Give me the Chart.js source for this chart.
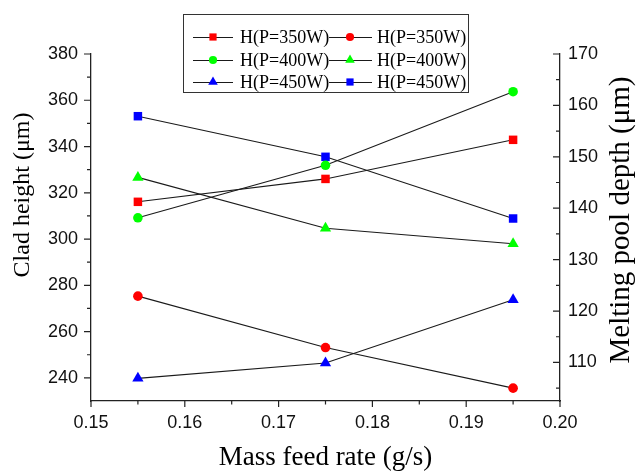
<!DOCTYPE html>
<html><head><meta charset="utf-8">
<script src="https://cdn.jsdelivr.net/npm/chart.js@4/dist/chart.umd.min.js"></script>
<style>html,body{margin:0;padding:0;background:#fff}#wrap{width:636px;height:472px;position:relative}</style>
</head><body><div id="wrap"><canvas id="c" width="636" height="472"></canvas></div>
<script>
// ---- data ----
const massFeedRate = [0.155, 0.175, 0.195];
const xTicks = [0.15, 0.16, 0.17, 0.18, 0.19, 0.20];
const xMinorTicks = [0.155, 0.165, 0.175, 0.185, 0.195];
const cladTicks = [240, 260, 280, 300, 320, 340, 360, 380];
const cladMinorTicks = [230, 250, 270, 290, 310, 330, 350, 370];
const depthTicks = [110, 120, 130, 140, 150, 160, 170];
const depthMinorTicks = [105, 115, 125, 135, 145, 155, 165];
const cladH350 = [316.1, 326.0, 342.9];
const depth350 = [122.9, 112.9, 105.0];
const cladH400 = [309.2, 331.9, 363.7];
const depth400 = [146.0, 136.1, 133.1];
const cladH450 = [239.8, 246.4, 273.8];
const depth450 = [157.9, 150.0, 138.0];
const seriesLabels = ['H(P=350W)', 'H(P=350W)', 'H(P=400W)', 'H(P=400W)', 'H(P=450W)', 'H(P=450W)'];
const xTitle = 'Mass feed rate (g/s)';
const leftTitle = 'Clad height (\u03bcm)';
const rightTitle = 'Melting pool depth (\u03bcm)';

const pts = arr => massFeedRate.map((x, i) => ({x: x, y: arr[i]}));
function ds(label, arr, axis, color, style, r) {
  return {label: label, data: pts(arr), yAxisID: axis, borderColor: '#1a1a1a', borderWidth: 1.1,
    pointStyle: style, pointRadius: r, pointHoverRadius: r, pointBackgroundColor: color,
    pointBorderColor: color, pointBorderWidth: 0, tension: 0, fill: false};
}
const datasets = [
  ds(seriesLabels[0], cladH350, 'yL', '#ff0000', 'rect', 6),
  ds(seriesLabels[1], depth350, 'yR', '#ff0000', 'circle', 4.8),
  ds(seriesLabels[2], cladH400, 'yL', '#00ff00', 'circle', 4.8),
  ds(seriesLabels[3], depth400, 'yR', '#00ff00', 'triangle', 6.5),
  ds(seriesLabels[4], cladH450, 'yL', '#0000ff', 'triangle', 6.5),
  ds(seriesLabels[5], depth450, 'yR', '#0000ff', 'rect', 6)
];

function marker(ctx, style, r, x, y, color) {
  ctx.save();
  ctx.fillStyle = color;
  ctx.beginPath();
  if (style === 'rect') { const s = Math.SQRT1_2 * r; ctx.rect(x - s, y - s, 2 * s, 2 * s); }
  else if (style === 'circle') { ctx.arc(x, y, r, 0, Math.PI * 2); }
  else { let a = 0; ctx.moveTo(x + Math.sin(a) * r, y - Math.cos(a) * r); a += 2 * Math.PI / 3;
    ctx.lineTo(x + Math.sin(a) * r, y - Math.cos(a) * r); a += 2 * Math.PI / 3;
    ctx.lineTo(x + Math.sin(a) * r, y - Math.cos(a) * r); ctx.closePath(); }
  ctx.fill();
  ctx.restore();
}

const extras = {
  id: 'extras',
  afterDraw(chart) {
    const ctx = chart.ctx, a = chart.chartArea;
    const sx = chart.scales.x, sl = chart.scales.yL, sr = chart.scales.yR;
    ctx.save();
    ctx.strokeStyle = '#222'; ctx.lineWidth = 1.2;
    ctx.beginPath();
    // left axis: outward ticks
    cladTicks.forEach(v => { const y = sl.getPixelForValue(v); ctx.moveTo(a.left, y); ctx.lineTo(a.left - 7, y); });
    cladMinorTicks.forEach(v => { const y = sl.getPixelForValue(v); if (y <= a.bottom - 1) { ctx.moveTo(a.left, y); ctx.lineTo(a.left - 4, y); } });
    // right axis: inward ticks
    depthTicks.forEach(v => { const y = sr.getPixelForValue(v); ctx.moveTo(a.right, y); ctx.lineTo(a.right - 7, y); });
    depthMinorTicks.forEach(v => { const y = sr.getPixelForValue(v); ctx.moveTo(a.right, y); ctx.lineTo(a.right - 4, y); });
    // bottom axis: outward ticks
    xTicks.forEach(v => { const x = sx.getPixelForValue(v); ctx.moveTo(x, a.bottom); ctx.lineTo(x, a.bottom + 6); });
    xMinorTicks.forEach(v => { const x = sx.getPixelForValue(v); ctx.moveTo(x, a.bottom); ctx.lineTo(x, a.bottom + 3.5); });
    ctx.stroke();

    // axis titles
    ctx.fillStyle = '#000';
    ctx.textAlign = 'center'; ctx.textBaseline = 'middle';
    ctx.font = '27px "Liberation Serif", "Times New Roman", serif';
    ctx.fillText(xTitle, (a.left + a.right) / 2, 458);
    ctx.save(); ctx.translate(23, 195); ctx.rotate(-Math.PI / 2);
    ctx.font = '24px "Liberation Serif", "Times New Roman", serif';
    ctx.fillText(leftTitle, 0, 0); ctx.restore();
    ctx.save(); ctx.translate(621, 220); ctx.rotate(-Math.PI / 2);
    ctx.font = '29px "Liberation Serif", "Times New Roman", serif';
    ctx.fillText(rightTitle, 0, 0); ctx.restore();

    // legend
    ctx.fillStyle = '#fff';
    ctx.fillRect(183.5, 14.5, 285, 78);
    ctx.strokeStyle = '#333'; ctx.lineWidth = 1;
    ctx.strokeRect(183.5, 14.5, 285, 78);
    const rowY = [37, 60, 82];
    ctx.font = '18px "Liberation Serif", "Times New Roman", serif';
    ctx.textAlign = 'left';
    chart.data.datasets.forEach((d, i) => {
      const row = Math.floor(i / 2), col = i % 2;
      const y = rowY[row];
      const x0 = col ? 329 : 193, x1 = col ? 372 : 233, mx = col ? 350 : 213, tx = col ? 377 : 240;
      ctx.strokeStyle = '#1a1a1a'; ctx.lineWidth = 1;
      ctx.beginPath(); ctx.moveTo(x0, y + 0.5); ctx.lineTo(x1, y + 0.5); ctx.stroke();
      marker(ctx, d.pointStyle, d.pointRadius * 0.85, mx, y, d.pointBackgroundColor);
      ctx.fillStyle = '#000';
      ctx.fillText(d.label, tx, y + 1);
    });
    ctx.restore();
  }
};

const tickFont = {family: '"Liberation Sans", Arial, sans-serif', size: 18};
new Chart(document.getElementById('c'), {
  type: 'line',
  data: {datasets: datasets},
  options: {
    responsive: false, animation: false, devicePixelRatio: 1,
    layout: {padding: {top: 54, left: 0, right: 0, bottom: 0}},
    plugins: {legend: {display: false}, tooltip: {enabled: false}},
    scales: {
      x: {type: 'linear', min: 0.15, max: 0.20,
        afterBuildTicks: s => { s.ticks = xTicks.map(v => ({value: v})); },
        afterFit: s => { s.height = 71; },
        grid: {display: false, drawTicks: false},
        border: {display: true, color: '#222', width: 1.3},
        ticks: {font: tickFont, color: '#111', padding: 11, maxRotation: 0, callback: v => v.toFixed(2)}},
      yL: {type: 'linear', position: 'left', min: 230, max: 380,
        afterBuildTicks: s => { s.ticks = cladTicks.map(v => ({value: v})); },
        afterFit: s => { s.width = 91; },
        grid: {display: false, drawTicks: false},
        border: {display: true, color: '#222', width: 1.3},
        ticks: {font: tickFont, color: '#111', padding: 13}},
      yR: {type: 'linear', position: 'right', min: 102.5, max: 170,
        afterBuildTicks: s => { s.ticks = depthTicks.map(v => ({value: v})); },
        afterFit: s => { s.width = 76; },
        grid: {display: false, drawTicks: false},
        border: {display: true, color: '#222', width: 1.3},
        ticks: {font: tickFont, color: '#111', padding: 8}}
    }
  },
  plugins: [extras]
});
</script>
</body></html>
